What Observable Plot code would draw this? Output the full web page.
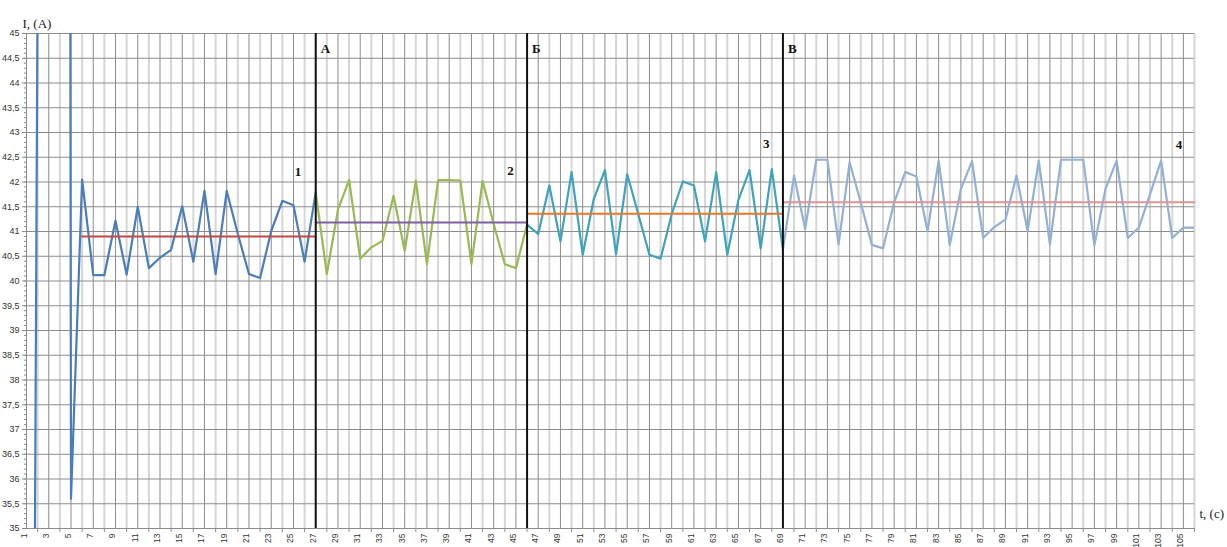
<!DOCTYPE html>
<html>
<head>
<meta charset="utf-8">
<script src="https://cdn.jsdelivr.net/npm/d3@7"></script>
<script src="https://cdn.jsdelivr.net/npm/@observablehq/plot@0.6"></script>
<style>
  html, body { margin: 0; padding: 0; background: #fff; }
  #chart svg { display: block; }
</style>
</head>
<body>
<div id="chart"></div>
<script>
// ---- data ----
// series 1: t = 1 .. 27
const s1Start = 1;
const s1Values = [0, 46, 120, 200, 35.6, 42.05, 40.12, 40.12, 41.22, 40.13, 41.5, 40.26, 40.47, 40.63,
  41.51, 40.39, 41.82, 40.14, 41.82, 40.95, 40.14, 40.06, 41.01, 41.62, 41.53, 40.39, 41.79];
// series 2: t = 27 .. 46
const s2Start = 27;
const s2Values = [41.79, 40.14, 41.44, 42.04, 40.45, 40.68, 40.81, 41.72, 40.61, 42.03, 40.34, 42.04,
  42.04, 42.03, 40.34, 42.02, 41.15, 40.34, 40.26, 41.14];
// series 3: t = 46 .. 69
const s3Start = 46;
const s3Values = [41.14, 40.95, 41.93, 40.8, 42.2, 40.53, 41.66, 42.24, 40.54, 42.16, 41.35, 40.53,
  40.45, 41.35, 42.01, 41.93, 40.8, 42.2, 40.53, 41.64, 42.24, 40.66, 42.26, 40.64];
// series 4: t = 69 .. 106
const s4Start = 69;
const s4Values = [40.64, 42.13, 41.05, 42.45, 42.45, 40.74, 42.4, 41.58, 40.73, 40.66, 41.59, 42.2,
  42.11, 41.01, 42.43, 40.73, 41.86, 42.42, 40.87, 41.09, 41.24, 42.13, 41.01, 42.43, 40.74, 42.45,
  42.45, 42.45, 40.72, 41.86, 42.43, 40.87, 41.08, 41.75, 42.43, 40.87, 41.08, 41.08];

// mean lines: [from t, to t, value]
const meanFrom = [6, 27, 46, 69];
const meanTo = [27, 46, 69, 106];
const meanValue = [40.9, 41.18, 41.36, 41.59];

// section boundaries
const sectionT = [27, 46, 69];
const sectionLabels = ["А", "Б", "В"];

// segment numbers
const noteLabels = ["1", "2", "3", "4"];
const noteT = [25.4, 44.5, 67.5, 104.6];
const noteI = [42.2, 42.22, 42.78, 42.76];

const xTicks = d3.range(1, 106, 2);       // labelled categories
const xMinor = d3.range(2, 107, 2);
const yTicks = d3.range(35, 45.01, 0.5);
const yMinor = d3.range(35, 45.001, 0.1).map(v => +v.toFixed(1));

const seriesColors = ["#4A7EBB", "#98B954", "#3FA3BC", "#93B0D6"];
const meanColors = ["#BE4B48", "#7D60A0", "#E8792B", "#D99694"];

function toRows(start, values) { return values.map((v, i) => ({t: start + i, i: v})); }
const series = [
  toRows(s1Start, s1Values), toRows(s2Start, s2Values),
  toRows(s3Start, s3Values), toRows(s4Start, s4Values)
];
const means = meanFrom.map((f, k) => [{t: f, i: meanValue[k]}, {t: meanTo[k], i: meanValue[k]}]);
const notes = noteLabels.map((l, k) => ({label: l, t: noteT[k], i: noteI[k]}));
const sections = sectionT.map((t, k) => ({t, label: sectionLabels[k]}));

const fmt = v => String(+v.toFixed(1)).replace(".", ",");
const serif = "'Liberation Serif', 'DejaVu Serif', serif";
const sans = "'Liberation Sans', Arial, sans-serif";

const chart = Plot.plot({
  width: 1227,
  height: 547,
  marginLeft: 26,
  marginRight: 33,
  marginTop: 33,
  marginBottom: 19,
  style: {fontFamily: sans, background: "#fff", overflow: "visible"},
  x: {type: "linear", domain: [1, 106], axis: null},
  y: {type: "linear", domain: [35, 45], axis: null},
  marks: [
    // gridlines
    Plot.ruleX(xMinor, {stroke: "#d6d6d6", strokeWidth: 2}),
    Plot.ruleX(xTicks, {stroke: "#8c8c8c", strokeWidth: 1}),
    Plot.ruleY(yTicks, {stroke: "#8c8c8c", strokeWidth: 1}),
    // axes
    Plot.axisY({ticks: yMinor, tickSize: 2, tickFormat: () => "", label: null, stroke: "#8c8c8c"}),
    Plot.axisY({ticks: yTicks, tickSize: 4, tickPadding: 3, tickFormat: fmt, label: null, fontSize: 9, fill: "#333", stroke: "#8c8c8c"}),
    Plot.ruleX([1], {stroke: "#8c8c8c"}),
    Plot.ruleY([35], {stroke: "#8c8c8c"}),
    Plot.ruleX(xMinor, {y1: 35, y2: 35, insetBottom: -4, stroke: "#8c8c8c"}),
    Plot.text(xTicks, {x: d => d, frameAnchor: "bottom", dy: 5, rotate: -90, textAnchor: "end",
      text: d => String(d), fontSize: 8.5, fill: "#333"}),
    // series
    ...series.map((rows, k) => Plot.line(rows, {x: "t", y: "i", stroke: seriesColors[k], strokeWidth: 2.2, clip: true})),
    // means
    ...means.map((rows, k) => Plot.line(rows, {x: "t", y: "i", stroke: meanColors[k], strokeWidth: 2})),
    // section boundaries
    Plot.ruleX(sectionT, {stroke: "#111", strokeWidth: 2}),
    Plot.text(sections, {x: "t", text: "label", frameAnchor: "top", dx: 5, dy: 10, textAnchor: "start",
      fontFamily: serif, fontWeight: "bold", fontSize: 13, fill: "#111"}),
    Plot.text(notes, {x: "t", y: "i", text: "label", fontFamily: serif, fontWeight: "bold", fontSize: 13, fill: "#111"}),
    // axis titles
    Plot.text(["I, (A)"], {frameAnchor: "top-left", dx: -4, dy: -15, textAnchor: "start",
      fontFamily: serif, fontSize: 13, fill: "#222"}),
    Plot.text(["t, (c)"], {frameAnchor: "bottom-right", dx: 5, dy: -11, textAnchor: "start",
      fontFamily: serif, fontSize: 13, fill: "#222"})
  ]
});
document.getElementById("chart").appendChild(chart);
</script>
</body>
</html>
